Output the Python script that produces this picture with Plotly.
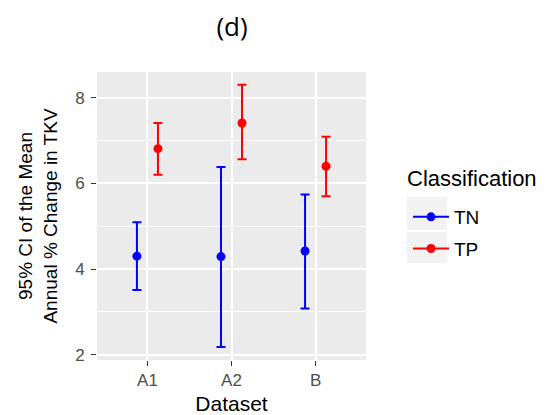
import plotly.graph_objects as go

# ---- data ----
datasets = ["A1", "A2", "B"]
tn_mean = [4.30, 4.29, 4.42]
tn_lower = [3.51, 2.18, 3.08]
tn_upper = [5.09, 6.38, 5.74]
tp_mean = [6.81, 7.41, 6.40]
tp_lower = [6.20, 6.56, 5.70]
tp_upper = [7.41, 8.30, 7.09]
y_ticks = [2, 4, 6, 8]

# ---- style ----
FONT = "Liberation Sans"
BLUE = "#0000FF"
RED = "#FF0000"
DODGE = 0.125
W, H = 552, 415
ML, MR, MT, MB = 97, 186, 72, 55

pos = list(range(1, len(datasets) + 1))

def series(name, mean, lower, upper, color, offset):
    x = [p + offset for p in pos]
    plus = [u - m for u, m in zip(upper, mean)]
    minus = [m - l for m, l in zip(mean, lower)]
    return go.Scatter(
        x=x, y=mean, mode="markers", name=name, showlegend=False,
        marker=dict(color=color, size=9),
        error_y=dict(type="data", symmetric=False, array=plus, arrayminus=minus,
                     color=color, thickness=2, width=4.5),
        hoverinfo="skip",
    )

fig = go.Figure()
fig.add_trace(series("TN", tn_mean, tn_lower, tn_upper, BLUE, -DODGE))
fig.add_trace(series("TP", tp_mean, tp_lower, tp_upper, RED, DODGE))
for name, color in [("TN", BLUE), ("TP", RED)]:
    fig.add_trace(go.Scatter(x=[None], y=[None], mode="lines+markers", name=name,
                             legendgroup=name,
                             line=dict(color=color, width=2),
                             marker=dict(color=color, size=9)))

pw = W - ML - MR
ph = H - MT - MB
def px_x(px):
    return (px - ML) / pw
def px_y(py):
    return (H - MB - py) / ph

for y0, y1 in [(197, 230), (232, 263)]:
    fig.add_shape(type="rect", xref="paper", yref="paper",
                  x0=px_x(407), x1=px_x(447), y0=px_y(y1), y1=px_y(y0),
                  fillcolor="#F2F2F2", line=dict(width=0), layer="below")

fig.add_annotation(text="Classification", xref="paper", yref="paper",
                   x=px_x(405), y=px_y(178), xanchor="left", yanchor="middle",
                   showarrow=False, font=dict(size=22, color="black"))

fig.update_layout(
    width=W, height=H,
    margin=dict(l=ML, r=MR, t=MT, b=MB, autoexpand=False),
    paper_bgcolor="white", plot_bgcolor="#EBEBEB",
    font=dict(family=FONT, color="black"),
    title=dict(text="(d)", x=px_x(232), xref="paper", xanchor="center",
               y=1 - 27 / H, yanchor="middle", font=dict(family="Open Sans", size=26)),
    legend=dict(font=dict(size=19), x=px_x(408), xanchor="left",
                y=px_y(198), yanchor="top", bgcolor="rgba(0,0,0,0)",
                tracegroupgap=4, itemwidth=36),
    xaxis=dict(range=[0.4, 3.6], tickvals=pos, ticktext=datasets,
               showgrid=True, gridcolor="white", gridwidth=2, zeroline=False,
               ticks="outside", ticklen=5, tickcolor="#333333", tickwidth=1,
               tickfont=dict(size=17, color="#4D4D4D"),
               title=dict(text="Dataset", font=dict(size=21), standoff=8)),
    yaxis=dict(range=[1.875, 8.6], tickvals=y_ticks,
               showgrid=True, gridcolor="white", gridwidth=1.6, zeroline=False,
               minor=dict(dtick=1, tick0=1, showgrid=True, gridcolor="white", gridwidth=0.8),
               ticks="outside", ticklen=5, tickcolor="#333333", tickwidth=1,
               ticklabelstandoff=3,
               tickfont=dict(size=17, color="#4D4D4D"),
               title=dict(text="95% CI of the Mean<br>Annual % Change in TKV",
                          font=dict(size=19), standoff=12)),
)

fig.write_html("out.html")
